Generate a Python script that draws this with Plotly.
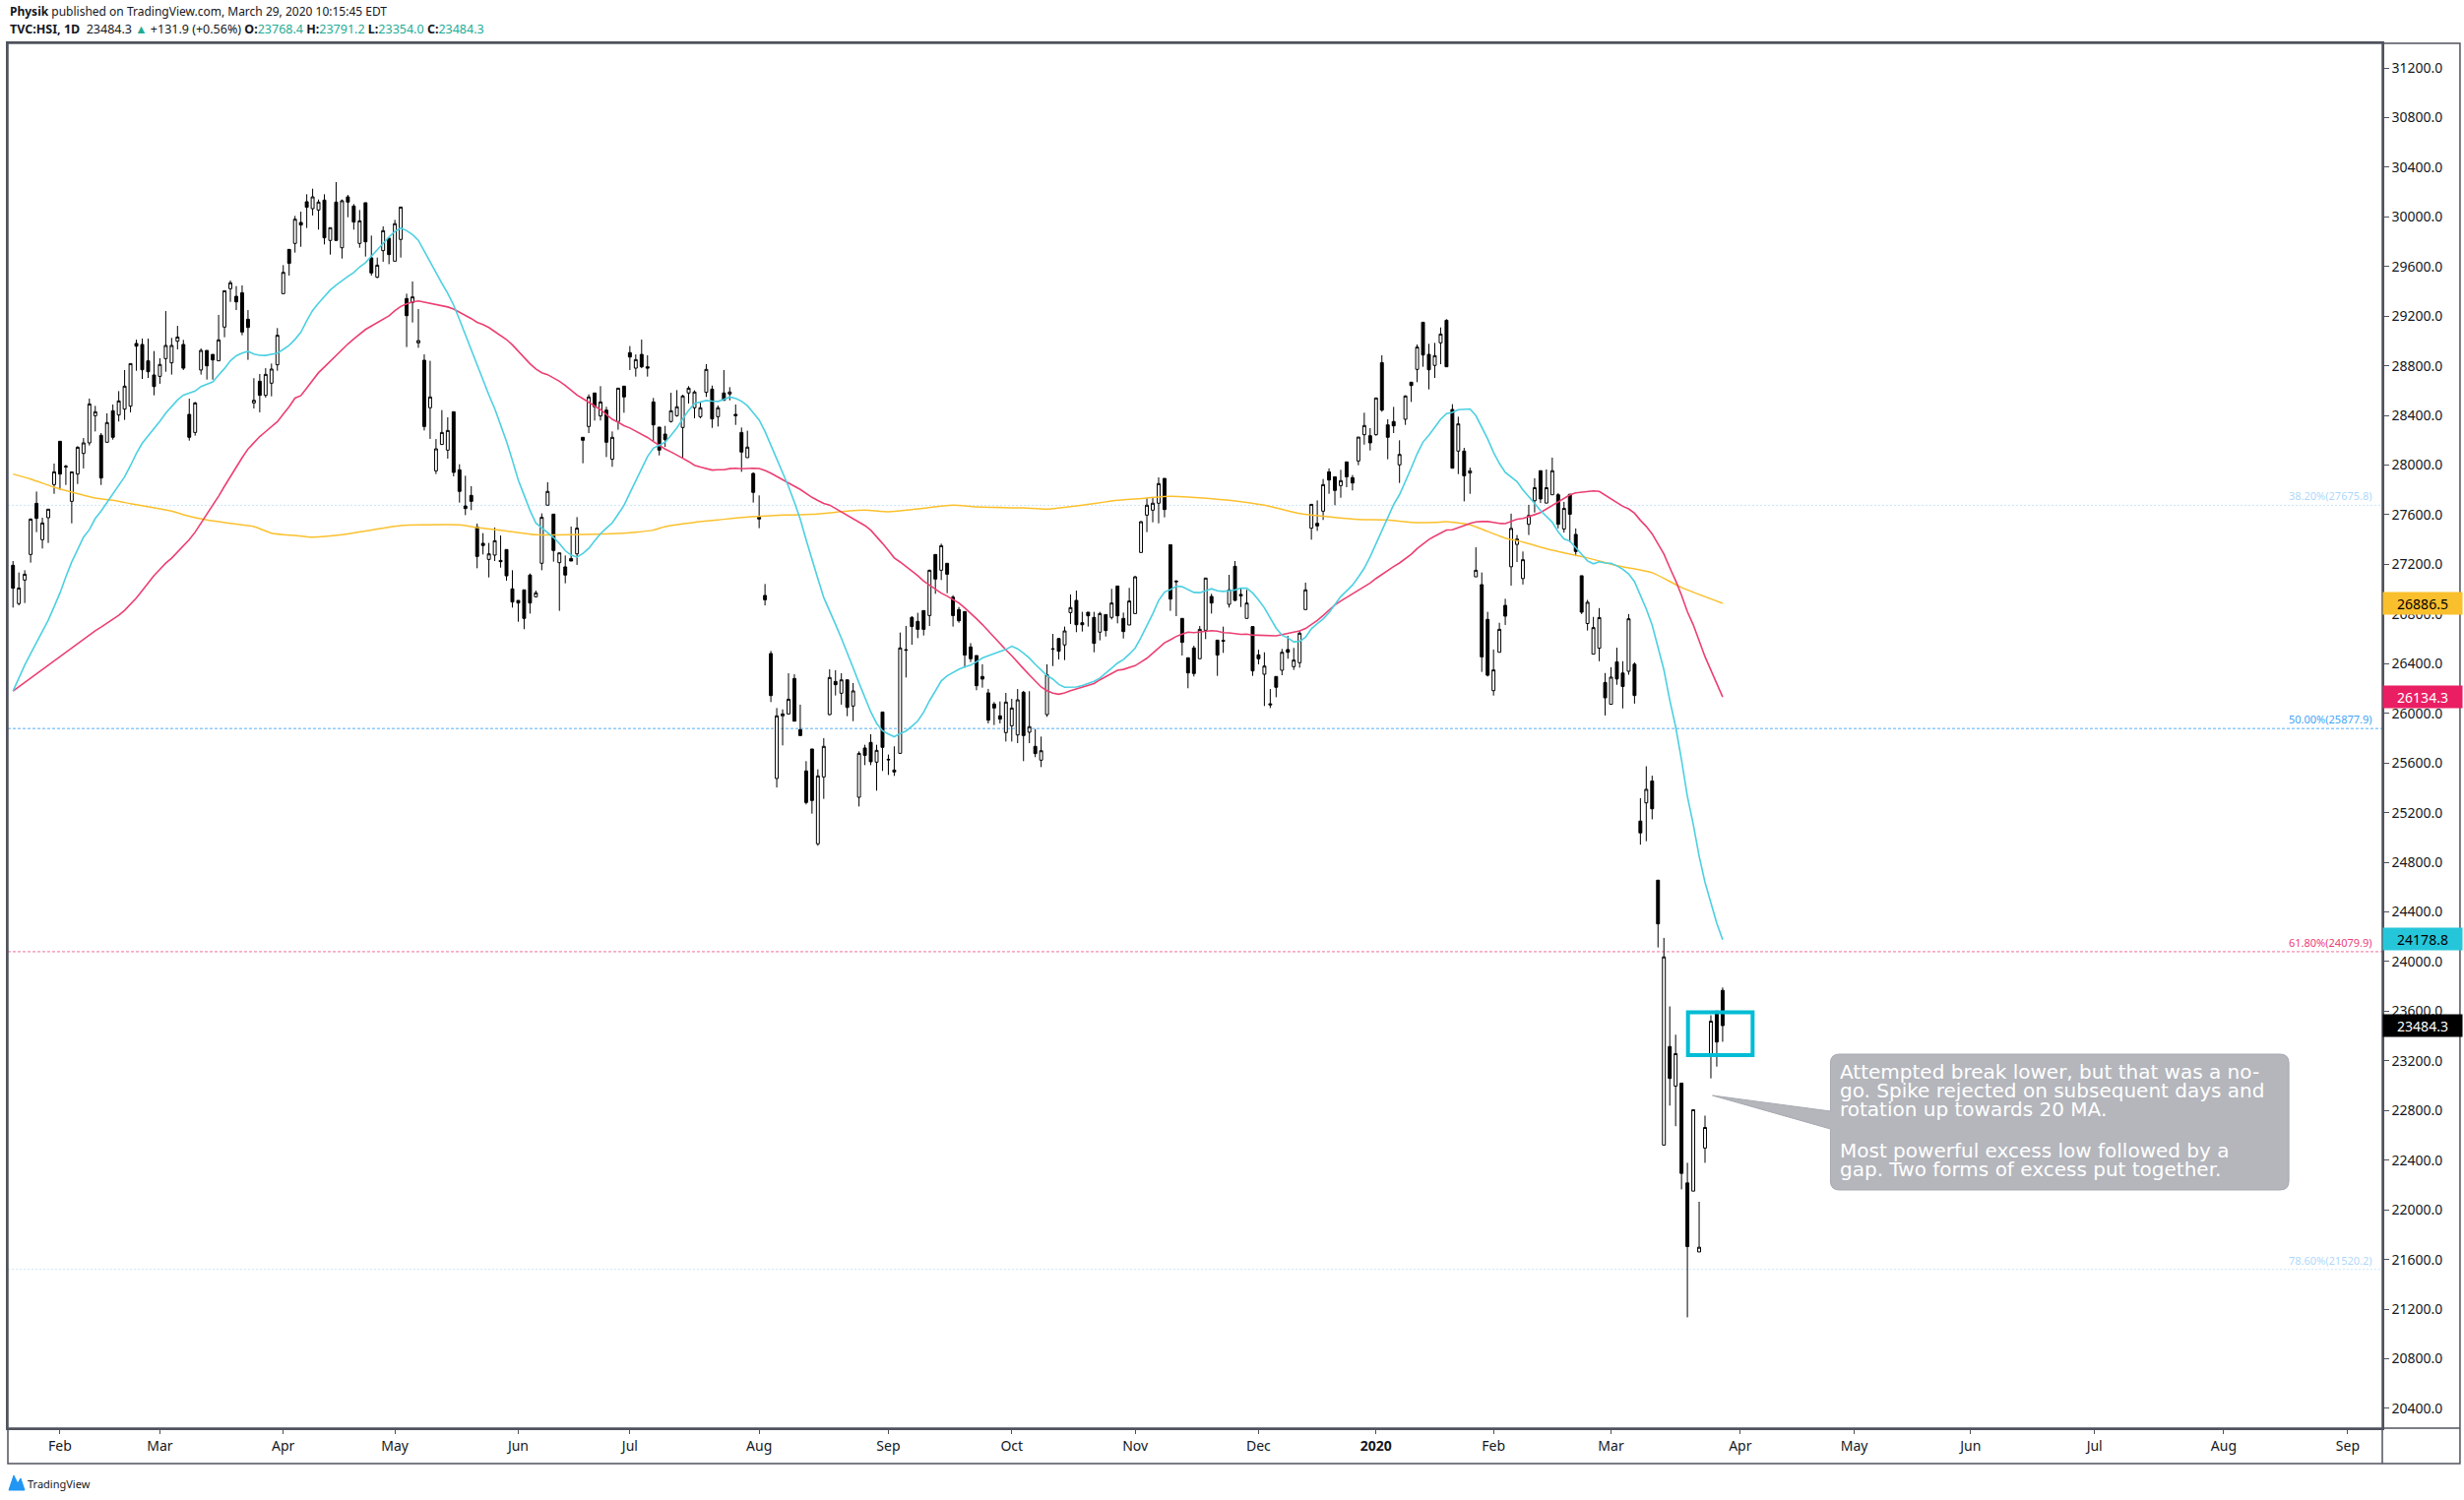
import plotly.graph_objects as go
import pandas as pd

# ---------------- data ----------------
bar_index = list(range(14, 306))  # trading-day index (0 = 2 Jan 2019)

opens = [
    27193, 26884, 27074, 27280, 27692, 27399, 27576, 27843, 28192, 27990,
    27708, 27928, 28094, 28179, 28398, 28240, 28184, 28438, 28404, 28451,
    28475, 28980, 28972, 28840, 28726, 28715, 28858, 28824, 28998, 28972,
    28409, 28263, 28766, 28924, 28892, 28840, 29112, 29421, 29360, 29389,
    29175, 28501, 28676, 28562, 28660, 28808, 29381, 29738, 29786, 29955,
    30122, 30066, 30055, 30135, 29810, 30119, 29751, 30161, 30087, 29786,
    30114, 29670, 29514, 29728, 29828, 29643, 29818, 29342, 29310, 28985,
    28845, 28462, 27954, 28166, 28121, 28430, 27962, 27671, 27756, 27502,
    27370, 27240, 27275, 27232, 27320, 27003, 26910, 26995, 27114, 26939,
    27209, 27677, 27605, 27214, 27180, 27248, 27285, 28224, 28311, 28581,
    28396, 28443, 28047, 28351, 28636, 28906, 28781, 28892, 28792, 28509,
    28306, 28250, 28351, 28398, 28303, 28581, 28462, 28390, 28586, 28612,
    28390, 28581, 28573, 28409, 28263, 28060, 27933, 27581, 26950, 26482,
    25475, 25980, 25995, 26281, 25869, 25536, 25713, 24949, 25488, 25990,
    26257, 26162, 26270, 26059, 25324, 25721, 25766, 25607, 26011, 25630,
    25543, 25678, 26513, 26773, 26741, 26828, 26788, 27280, 27153, 27209,
    26936, 26836, 26820, 26535, 26466, 26297, 26165, 26075, 25980, 25845,
    25900, 25826, 26170, 25848, 25734, 25623, 25990, 26521, 26603, 26551,
    26812, 26910, 26730, 26815, 26773, 26654, 26796, 26773, 27026, 26765,
    26712, 26804, 27296, 27597, 27637, 27693, 27893, 27359, 27065, 26765,
    26448, 26527, 26440, 26669, 26942, 26590, 26588, 26878, 27185, 26958,
    26765, 26699, 26471, 26315, 26077, 26297, 26347, 26514, 26376, 26408,
    26836, 27492, 27531, 27629, 27946, 27906, 27835, 28026, 27899, 28033,
    28245, 28237, 28245, 28826, 28324, 28351, 28002, 28369, 28668, 28771,
    29151, 28892, 28803, 28985, 29167, 28448, 28113, 28113, 27936, 27100,
    27037, 26757, 26183, 26492, 26870, 27181, 27361, 27086, 27523, 27713,
    27955, 27694, 27761, 27761, 27485, 27765, 27442, 27109, 26724, 26477,
    26525, 26249, 26073, 26415, 26325, 26339, 26396, 25132, 25279, 25455,
    24656, 22522, 23316, 22997, 23021, 22217, 22151, 21661, 22498, 23249,
    23601, 23768.4,
]
highs = [
    27227, 27135, 27153, 27571, 27787, 27576, 27645, 28012, 28192, 28002,
    27946, 28152, 28218, 28536, 28477, 28258, 28417, 28488, 28596, 28766,
    28818, 29011, 29019, 29019, 28919, 28861, 29241, 29025, 29122, 29009,
    28536, 28509, 28940, 28924, 28892, 29210, 29405, 29487, 29442, 29448,
    29249, 28700, 28734, 28781, 28818, 29104, 29611, 29738, 30008, 30042,
    30182, 30227, 30140, 30182, 29913, 30280, 30140, 30177, 30103, 30055,
    30114, 29849, 29672, 29923, 29828, 29976, 30079, 29381, 29479, 29257,
    28892, 28840, 28210, 28443, 28385, 28430, 28007, 27914, 27830, 27529,
    27452, 27373, 27497, 27433, 27320, 27153, 26910, 26995, 27127, 26989,
    27611, 27862, 27605, 27293, 27272, 27505, 27581, 28224, 28570, 28581,
    28636, 28470, 28271, 28620, 28636, 28959, 28892, 29011, 28885, 28541,
    28306, 28316, 28583, 28604, 28567, 28636, 28602, 28509, 28813, 28641,
    28480, 28766, 28628, 28488, 28303, 28277, 27941, 27756, 27042, 26503,
    26043, 26032, 26323, 26315, 26070, 25615, 25713, 25549, 25800, 26355,
    26347, 26323, 26270, 26244, 25694, 25747, 25832, 25747, 26011, 25668,
    25734, 26651, 26704, 26783, 26810, 26828, 27158, 27280, 27367, 27209,
    26952, 26857, 26820, 26566, 26466, 26395, 26197, 26091, 26096, 26165,
    26117, 26196, 26181, 26178, 25874, 25813, 26395, 26640, 26603, 26699,
    26958, 26989, 26818, 26815, 26818, 26818, 26796, 27003, 27026, 26812,
    27011, 27108, 27550, 27735, 27743, 27901, 27893, 27359, 27074, 26765,
    26448, 26545, 26704, 27090, 26963, 26590, 26699, 27116, 27227, 27011,
    26995, 26699, 26513, 26492, 26196, 26297, 26519, 26624, 26527, 26667,
    27053, 27684, 27716, 27888, 27973, 27906, 27962, 28026, 27920, 28226,
    28422, 28298, 28541, 28885, 28369, 28469, 28200, 28562, 28668, 28972,
    29151, 28977, 28985, 29109, 29175, 28491, 28390, 28139, 27980, 27338,
    27135, 26818, 26514, 26730, 26923, 27609, 27437, 27304, 27680, 27894,
    27955, 27965, 28060, 27775, 27704, 27765, 27490, 27109, 26914, 26777,
    26848, 26325, 26372, 26529, 26420, 26800, 26411, 25317, 25574, 25498,
    24656, 24191, 23639, 23411, 23021, 22379, 22807, 22065, 22759, 23568,
    23601, 23791.2,
]
lows = [
    26852, 26870, 26889, 27214, 27460, 27328, 27373, 27769, 27801, 27840,
    27531, 27848, 27973, 28158, 28271, 27840, 28184, 28205, 28351, 28364,
    28425, 28760, 28694, 28702, 28562, 28655, 28752, 28729, 28932, 28766,
    28197, 28237, 28729, 28689, 28689, 28840, 29030, 29315, 29249, 29046,
    28848, 28456, 28425, 28544, 28554, 28760, 29381, 29527, 29712, 29759,
    29910, 30011, 29897, 29778, 29696, 29810, 29664, 29997, 29897, 29751,
    29680, 29527, 29506, 29638, 29619, 29643, 29672, 28951, 29149, 28945,
    28279, 28211, 27928, 28166, 28052, 27909, 27698, 27597, 27637, 27169,
    27280, 27095, 27227, 27174, 27069, 26852, 26738, 26678, 26804, 26936,
    27153, 27677, 27222, 26826, 27048, 27227, 27196, 28015, 28258, 28359,
    28359, 28065, 27986, 28285, 28422, 28766, 28713, 28781, 28713, 28192,
    28078, 28147, 28343, 28390, 28060, 28496, 28377, 28377, 28549, 28300,
    28311, 28522, 28522, 28324, 27946, 28060, 27698, 27492, 26870, 26091,
    25403, 25742, 25995, 25937, 25821, 25266, 25192, 24933, 25311, 25985,
    26144, 26070, 25977, 25937, 25250, 25583, 25583, 25377, 25536, 25504,
    25496, 25678, 26289, 26553, 26606, 26627, 26704, 26963, 27074, 26968,
    26699, 26730, 26368, 26413, 26186, 26207, 25919, 25906, 25919, 25773,
    25773, 25760, 25615, 25760, 25647, 25567, 25972, 26381, 26434, 26429,
    26720, 26654, 26659, 26699, 26492, 26588, 26619, 26757, 26725, 26603,
    26712, 26804, 27296, 27460, 27539, 27531, 27579, 26826, 26783, 26466,
    26202, 26297, 26440, 26598, 26804, 26302, 26487, 26852, 26905, 26857,
    26765, 26302, 26395, 26059, 26043, 26130, 26307, 26440, 26350, 26368,
    26836, 27399, 27470, 27558, 27769, 27677, 27737, 27822, 27796, 27999,
    28165, 28118, 28237, 28430, 28047, 28258, 27856, 28324, 28509, 28668,
    28792, 28610, 28702, 28813, 28792, 27975, 27928, 27708, 27769, 27100,
    26334, 26297, 26143, 26492, 26712, 27029, 27219, 27038, 27437, 27618,
    27694, 27694, 27761, 27490, 27456, 27380, 27266, 26800, 26667, 26477,
    26420, 25983, 26073, 26230, 26040, 26311, 26078, 24942, 24970, 25146,
    24114, 22522, 22840, 22674, 22165, 21134, 22151, 21661, 22379, 23059,
    23154, 23354.0,
]
closes = [
    27008, 27010, 27121, 27565, 27571, 27534, 27645, 27946, 27928, 27986,
    27946, 28144, 28179, 28493, 28430, 27896, 28343, 28224, 28517, 28636,
    28818, 28958, 28768, 28752, 28633, 28811, 28964, 28964, 29032, 28781,
    28224, 28501, 28924, 28800, 28847, 29009, 29405, 29469, 29315, 29072,
    29109, 28522, 28562, 28731, 28774, 29046, 29553, 29625, 29981, 29934,
    30077, 30161, 30119, 29831, 29913, 29810, 30130, 30119, 29958, 29968,
    29799, 29548, 29611, 29889, 29696, 29945, 30079, 29204, 29355, 29003,
    28311, 28549, 28131, 28263, 28279, 27941, 27788, 27650, 27708, 27264,
    27352, 27285, 27391, 27222, 27108, 26897, 26889, 26765, 26889, 26971,
    27579, 27788, 27312, 27293, 27114, 27227, 27492, 28200, 28549, 28470,
    28509, 28184, 28224, 28620, 28549, 28871, 28850, 28792, 28781, 28324,
    28121, 28205, 28438, 28470, 28557, 28620, 28589, 28462, 28771, 28372,
    28462, 28522, 28589, 28398, 28105, 28145, 27780, 27566, 26915, 26143,
    25980, 25995, 26114, 25937, 25821, 25282, 25298, 25496, 25734, 26289,
    26231, 26270, 26048, 26181, 25678, 25662, 25610, 25702, 25726, 25626,
    25528, 26527, 26509, 26699, 26677, 26677, 27153, 27082, 27351, 27121,
    26788, 26746, 26469, 26440, 26223, 26276, 25945, 26043, 25953, 26091,
    26043, 26109, 25821, 25893, 25676, 25699, 26310, 26517, 26500, 26664,
    26852, 26714, 26714, 26786, 26564, 26804, 26667, 26889, 26786, 26659,
    26905, 27100, 27544, 27677, 27693, 27851, 27642, 26921, 27061, 26572,
    26326, 26321, 26677, 27090, 26889, 26469, 26582, 26995, 26910, 26947,
    26889, 26342, 26440, 26381, 26069, 26210, 26492, 26492, 26429, 26646,
    26995, 27684, 27510, 27843, 27880, 27796, 27875, 27906, 27856, 28226,
    28319, 28179, 28541, 28443, 28224, 28316, 28086, 28557, 28641, 28951,
    28887, 28768, 28882, 29056, 28792, 27975, 28332, 27914, 27954, 27153,
    26455, 26307, 26350, 26677, 26783, 27490, 27404, 27238, 27594, 27818,
    27727, 27818, 27955, 27523, 27651, 27604, 27304, 26815, 26895, 26691,
    26772, 26125, 26292, 26277, 26216, 26762, 26144, 25037, 25388, 25231,
    24304, 24038, 23059, 23259, 22294, 21704, 22807, 21699, 22664, 23520,
    23352.4, 23484.3,
]

# moving-average values before enough visible history exists
ma20_head = [26180, 26290, 26390, 26480, 26570, 26650, 26750, 26860, 26970, 27100,
             27220, 27320, 27420, 27480, 27570, 27630, 27700, 27760, 27840]
ma50_head = [26180, 26215, 26250, 26285, 26320, 26355, 26390, 26425, 26460, 26495,
             26530, 26565, 26600, 26635, 26665, 26695, 26725, 26755, 26790, 26830,
             26880, 26930, 26990, 27050, 27110, 27160, 27210, 27250, 27300, 27350,
             27400, 27460, 27530, 27600, 27680, 27750, 27830, 27910, 27990, 28060,
             28130, 28180, 28230, 28270, 28310, 28350, 28410, 28470, 28540]
ma200_idx = [14, 17, 21, 24, 28, 31, 34, 41, 43, 47, 51, 55, 58, 62, 65, 70, 74, 80, 84, 90,
             93, 98, 103, 109, 116, 120, 123, 125, 130, 134, 138, 143, 145, 150, 156, 159,
             163, 167, 174, 178, 186, 190, 196, 202, 207, 211, 214, 221, 227, 233, 239,
             243, 248, 252, 256, 258, 262, 265, 268, 271, 276, 282, 287, 293, 298, 305]
ma200_val = [27928, 27888, 27822, 27782, 27735, 27716, 27690, 27630, 27600, 27558, 27531,
             27505, 27452, 27433, 27420, 27439, 27470, 27513, 27518, 27518, 27497, 27470,
             27439, 27439, 27447, 27460, 27476, 27505, 27539, 27558, 27579, 27592, 27597,
             27603, 27629, 27637, 27624, 27642, 27677, 27663, 27655, 27645, 27677, 27716,
             27735, 27748, 27743, 27716, 27677, 27610, 27579, 27563, 27558, 27539, 27539,
             27544, 27518, 27466, 27412, 27380, 27314, 27252, 27190, 27133, 27014, 26886.5]

month_ticks = [22, 39, 60, 79, 100, 119, 141, 163, 184, 205, 226, 246, 266, 286,
               308, 327.4, 347.2, 368.3, 390.3, 411.4]
month_labels = ["Feb", "Mar", "Apr", "May", "Jun", "Jul", "Aug", "Sep", "Oct", "Nov",
                "Dec", "<b>2020</b>", "Feb", "Mar", "Apr", "May", "Jun", "Jul", "Aug", "Sep"]

price_ticks = list(range(20400, 31201, 400))

fib_levels = [27675.8, 25877.9, 24079.9, 21520.2]
fib_texts = ["38.20%(27675.8)", "50.00%(25877.9)", "61.80%(24079.9)", "78.60%(21520.2)"]

last_labels = [26886.5, 26134.3, 24178.8, 23484.3]

box_x = [299.1, 310.1]
box_y = [23247, 23592]

# ---------------- styling / geometry ----------------
W, H = 2503, 1524
PL, PR, PT, PB = 6, 2420, 44, 1451
FONT = "Noto Sans"
NOTE_FONT = "DejaVu Sans"
FRAME = "#50535e"
TXT = "#131722"
TEAL = "#22ab94"


def px_x(p):
    return (p - PL) / (PR - PL)


def px_y(p):
    return (PB - p) / (PB - PT)


s = pd.Series(closes, index=bar_index, dtype=float)
ma20 = s.rolling(20).mean()
ma20.iloc[:len(ma20_head)] = ma20_head
ma50 = s.rolling(50).mean()
ma50.iloc[:len(ma50_head)] = ma50_head

fig = go.Figure()

fig.add_trace(go.Candlestick(
    x=bar_index, open=opens, high=highs, low=lows, close=closes,
    increasing=dict(line=dict(color="#000000", width=1), fillcolor="#ffffff"),
    decreasing=dict(line=dict(color="#000000", width=1), fillcolor="#000000"),
    whiskerwidth=0, hoverinfo="skip", showlegend=False,
))
fig.add_trace(go.Scatter(x=ma200_idx, y=ma200_val, mode="lines",
                         line=dict(color="#fbc02d", width=1.5, shape="spline", smoothing=0.6),
                         hoverinfo="skip", showlegend=False))
fig.add_trace(go.Scatter(x=bar_index, y=ma50.values, mode="lines",
                         line=dict(color="#ec3f72", width=1.6),
                         hoverinfo="skip", showlegend=False))
fig.add_trace(go.Scatter(x=bar_index, y=ma20.values, mode="lines",
                         line=dict(color="#4cd0e1", width=1.6),
                         hoverinfo="skip", showlegend=False))

shapes = []
annotations = []

# fib levels
fib_line_styles = [
    dict(color="rgba(100,181,246,0.35)", width=1, dash="2px,2px"),
    dict(color="rgba(33,150,243,0.75)", width=1, dash="3px,2px"),
    dict(color="rgba(236,64,122,0.75)", width=1, dash="3px,2px"),
    dict(color="rgba(100,181,246,0.35)", width=1, dash="2px,2px"),
]
fib_label_colors = ["rgba(100,181,246,0.55)", "#42a5f5", "#ec407a", "rgba(100,181,246,0.55)"]
for lvl, txt, ls, lc in zip(fib_levels, fib_texts, fib_line_styles, fib_label_colors):
    shapes.append(dict(type="line", xref="paper", yref="y", x0=0, x1=1, y0=lvl, y1=lvl,
                       line=ls, layer="below"))
    annotations.append(dict(x=px_x(2412), xref="paper", y=lvl, yref="y", xanchor="right",
                            yanchor="bottom", text=txt, showarrow=False,
                            font=dict(family=FONT, size=11, color=lc)))

# highlight box
shapes.append(dict(type="rect", xref="x", yref="y", x0=box_x[0], x1=box_x[1],
                   y0=box_y[0], y1=box_y[1], line=dict(color="#00bcd4", width=4)))

# callout
L, R, T, B, r = 1859, 2325, 1071, 1209, 9
tip = (1739, 1113)
pts = [
    ("M", L + r, T), ("L", R - r, T), ("Q", R, T, R, T + r), ("L", R, B - r),
    ("Q", R, B, R - r, B), ("L", L + r, B), ("Q", L, B, L, B - r), ("L", L, 1147),
    ("L", tip[0], tip[1]), ("L", L, 1129), ("L", L, T + r), ("Q", L, T, L + r, T),
]
path = ""
for p in pts:
    if p[0] == "Q":
        path += f"Q{px_x(p[1])},{px_y(p[2])} {px_x(p[3])},{px_y(p[4])} "
    else:
        path += f"{p[0]}{px_x(p[1])},{px_y(p[2])} "
path += "Z"
shapes.append(dict(type="path", xref="paper", yref="paper", path=path,
                   fillcolor="#b4b6bc", line=dict(color="#a6a9b0", width=1)))

callout_lines = [
    ("Attempted break lower, but that was a no-", 1089),
    ("go. Spike rejected on subsequent days and", 1108),
    ("rotation up towards 20 MA.", 1127),
    ("Most powerful excess low followed by a", 1169),
    ("gap. Two forms of excess put together.", 1188),
]
for t, yy in callout_lines:
    annotations.append(dict(x=px_x(1867), xref="paper", y=px_y(yy), yref="paper",
                            xanchor="left", yanchor="middle", text=t, showarrow=False,
                            font=dict(family=NOTE_FONT, size=20, color="#ffffff")))

# price labels on the axis
label_bg = ["#f9bf2d", "#e91e63", "#26c6da", "#000000"]
label_fg = ["#000000", "#ffffff", "#000000", "#ffffff"]
for v, bg, fg in zip(last_labels, label_bg, label_fg):
    annotations.append(dict(x=1, xref="paper", y=v, yref="y", xanchor="left", yanchor="middle",
                            text=f"{v:.1f}", showarrow=False, bgcolor=bg, width=78, height=20,
                            borderpad=1, align="center",
                            font=dict(family=FONT, size=14, color=fg)))

# frame
x_right = px_x(2499)
y_bottom = px_y(1487)
shapes += [
    dict(type="rect", xref="paper", yref="paper", x0=0, x1=x_right, y0=y_bottom, y1=1,
         line=dict(color=FRAME, width=1.5)),
    dict(type="line", xref="paper", yref="paper", x0=1, x1=1, y0=y_bottom, y1=1,
         line=dict(color=FRAME, width=1.5)),
    dict(type="line", xref="paper", yref="paper", x0=0, x1=x_right, y0=0, y1=0,
         line=dict(color=FRAME, width=1.5)),
]

# header
o, h, l, c = opens[-1], highs[-1], lows[-1], closes[-1]
chg = c - closes[-2]
pct = chg / closes[-2] * 100
annotations.append(dict(x=px_x(6), xref="paper", y=px_y(12), yref="paper", xanchor="left",
                        yanchor="middle", showarrow=False,
                        text="<b>Physik</b> published on TradingView.com, March 29, 2020 10:15:45 EDT",
                        font=dict(family=FONT, size=12, color=TXT)))
hdr2 = (f"<b>TVC:HSI, 1D</b>  {c:.1f} <span style='color:{TEAL}'>▲</span> "
        f"+{chg:.1f} (+{pct:.2f}%) "
        f"<b>O:</b><span style='color:{TEAL}'>{o:.1f}</span> "
        f"<b>H:</b><span style='color:{TEAL}'>{h:.1f}</span> "
        f"<b>L:</b><span style='color:{TEAL}'>{l:.1f}</span> "
        f"<b>C:</b><span style='color:{TEAL}'>{c:.1f}</span>")
annotations.append(dict(x=px_x(6), xref="paper", y=px_y(29), yref="paper", xanchor="left",
                        yanchor="middle", showarrow=False, text=hdr2,
                        font=dict(family=FONT, size=12.5, color=TXT)))

# TradingView footer
shapes.append(dict(type="path", xref="paper", yref="paper",
                   path=(f"M{px_x(7)},{px_y(1514)} L{px_x(12)},{px_y(1499)} L{px_x(16)},{px_y(1507)} "
                         f"L{px_x(19)},{px_y(1502)} L{px_x(23)},{px_y(1514)} Z"),
                   fillcolor="#2196f3", line=dict(color="#2196f3", width=1)))
annotations.append(dict(x=px_x(24), xref="paper", y=px_y(1507), yref="paper", xanchor="left",
                        yanchor="middle", showarrow=False, text="TradingView",
                        font=dict(family=FONT, size=11, color=TXT)))

fig.update_layout(
    width=W, height=H, autosize=False,
    margin=dict(l=PL, r=W - PR, t=PT, b=H - PB, pad=0),
    paper_bgcolor="#ffffff", plot_bgcolor="#ffffff",
    font=dict(family=FONT, color=TXT, size=14),
    showlegend=False,
    shapes=shapes, annotations=annotations,
    xaxis=dict(range=[13.127, 417.28], showgrid=False, zeroline=False,
               rangeslider=dict(visible=False), tickmode="array",
               tickvals=month_ticks, ticktext=month_labels,
               ticks="outside", ticklen=4, tickcolor=FRAME, tickwidth=1,
               tickfont=dict(family=FONT, size=14, color=TXT),
               showline=True, linecolor=FRAME, linewidth=1.5, mirror=True,
               fixedrange=True),
    yaxis=dict(range=[20241.3, 31398.2], side="right", showgrid=False, zeroline=False,
               tickmode="array", tickvals=price_ticks,
               ticktext=[f"{v:.1f}" for v in price_ticks],
               ticks="outside", ticklen=5, tickcolor=FRAME, tickwidth=1,
               tickfont=dict(family=FONT, size=14, color=TXT),
               showline=True, linecolor=FRAME, linewidth=1.5, mirror=True,
               fixedrange=True),
)

fig.write_html("out.html", include_plotlyjs=True, full_html=True,
               config={"displayModeBar": False},
               post_script="document.body.style.margin='0';")
